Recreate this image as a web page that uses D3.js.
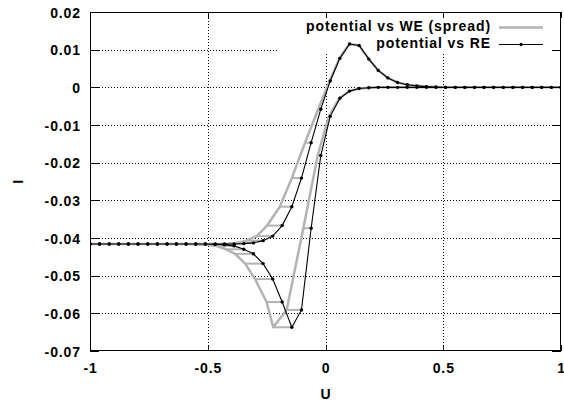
<!DOCTYPE html>
<html>
<head>
<meta charset="utf-8">
<script src="https://cdn.jsdelivr.net/npm/d3@7"></script>
<style>
  html, body { margin: 0; padding: 0; background: #fff; }
  svg { display: block; }
  text { font-family: "Liberation Sans", Arial, sans-serif; font-weight: bold; fill: #000; }
</style>
</head>
<body>
<svg id="chart" width="564" height="403"></svg>
<script>
// ---- data ----
// potential against reference electrode, one value per sample of each sweep
const uRE = [-1, -0.959, -0.918, -0.878, -0.837, -0.796, -0.755, -0.714, -0.673, -0.633,
  -0.592, -0.551, -0.510, -0.469, -0.429, -0.388, -0.347, -0.306, -0.265, -0.224,
  -0.184, -0.143, -0.102, -0.061, -0.020, 0.020, 0.061, 0.102, 0.143, 0.184,
  0.224, 0.265, 0.306, 0.347, 0.388, 0.429, 0.469, 0.510, 0.551, 0.592,
  0.633, 0.673, 0.714, 0.755, 0.796, 0.837, 0.878, 0.918, 0.959, 1];
// current on the forward (anodic) sweep, same order as uRE
const iForward = [-0.0416, -0.0416, -0.0416, -0.0416, -0.0416, -0.0416, -0.0416, -0.0416, -0.0416, -0.0416,
  -0.0416, -0.0416, -0.0416, -0.0416, -0.0416, -0.0416, -0.0415, -0.0413, -0.0407, -0.0395,
  -0.0367, -0.0317, -0.0241, -0.0147, -0.0058, 0.0017, 0.0077, 0.0115, 0.0111, 0.0075,
  0.0045, 0.0025, 0.0013, 0.0007, 0.0004, 0.0002, 0.0001, 0, 0, 0,
  0, 0, 0, 0, 0, 0, 0, 0, 0, 0];
// current on the backward (cathodic) sweep, same order as uRE
const iBackward = [-0.0416, -0.0416, -0.0416, -0.0416, -0.0416, -0.0416, -0.0416, -0.0416, -0.0416, -0.0416,
  -0.0416, -0.0416, -0.0416, -0.0417, -0.0418, -0.0421, -0.0430, -0.0442, -0.0468, -0.0509,
  -0.0570, -0.0637, -0.0591, -0.0374, -0.0181, -0.0077, -0.0029, -0.0010, -0.0003, -0.0001,
  0, 0, 0, 0, 0, 0, 0, 0, 0, 0,
  0, 0, 0, 0, 0, 0, 0, 0, 0, 0];
// potential against working electrode (spread), forward sweep
const uWEForward = [-1.072, -1.031, -0.990, -0.950, -0.909, -0.868, -0.827, -0.786, -0.745, -0.705,
  -0.664, -0.623, -0.582, -0.541, -0.501, -0.460, -0.419, -0.378, -0.337, -0.292,
  -0.248, -0.194, -0.143, -0.087, -0.031, 0.018, 0.059, 0.101, 0.143, 0.184,
  0.224, 0.265, 0.306, 0.347, 0.388, 0.429, 0.469, 0.510, 0.551, 0.592,
  0.633, 0.673, 0.714, 0.755, 0.796, 0.837, 0.878, 0.918, 0.959, 1];
// potential against working electrode (spread), backward sweep
const uWEBackward = [-1.076, -1.035, -0.994, -0.954, -0.913, -0.872, -0.831, -0.790, -0.749, -0.709,
  -0.668, -0.627, -0.586, -0.545, -0.505, -0.464, -0.423, -0.384, -0.341, -0.299,
  -0.250, -0.222, -0.165, -0.094, -0.033, 0.014, 0.059, 0.102, 0.143, 0.184,
  0.224, 0.265, 0.306, 0.347, 0.388, 0.429, 0.469, 0.510, 0.551, 0.592,
  0.633, 0.673, 0.714, 0.755, 0.796, 0.837, 0.878, 0.918, 0.959, 1];

const xTicks = [-1, -0.5, 0, 0.5, 1];
const xTickLabels = ["-1", "-0.5", "0", "0.5", "1"];
const yTicks = [0.02, 0.01, 0, -0.01, -0.02, -0.03, -0.04, -0.05, -0.06, -0.07];
const yTickLabels = ["0.02", "0.01", "0", "-0.01", "-0.02", "-0.03", "-0.04", "-0.05", "-0.06", "-0.07"];
const seriesNames = ["potential vs WE (spread)", "potential vs RE"];
const xTitle = "U";
const yTitle = "I";

// ---- build the loop: forward sweep then backward sweep ----
const fwd = uRE.map((u, k) => ({ re: u, we: uWEForward[k], i: iForward[k] }));
const bwd = uRE.map((u, k) => ({ re: u, we: uWEBackward[k], i: iBackward[k] })).reverse();
const loop = fwd.concat(bwd);

// ---- layout ----
const L = 90, R = 561, T = 12, B = 351;
const x = d3.scaleLinear().domain([-1, 1]).range([L, R]);
const y = d3.scaleLinear().domain([-0.07, 0.02]).range([B, T]);

const svg = d3.select("#chart");
svg.append("rect").attr("width", 564).attr("height", 403).attr("fill", "#fff");

svg.append("defs").append("clipPath").attr("id", "plotclip")
  .append("rect").attr("x", L).attr("y", T).attr("width", R - L).attr("height", B - T);

// grid
const grid = svg.append("g").attr("stroke", "#000").attr("stroke-width", 1)
  .attr("stroke-dasharray", "1,2").attr("shape-rendering", "crispEdges");
grid.selectAll("line.gx").data(xTicks.filter(d => d > -1 && d < 1)).join("line")
  .attr("x1", d => Math.round(x(d)) + 0.5).attr("x2", d => Math.round(x(d)) + 0.5)
  .attr("y1", T).attr("y2", B);
grid.selectAll("line.gy").data(yTicks.filter(d => d < 0.02 && d > -0.07)).join("line")
  .attr("class", "gy")
  .attr("x1", L).attr("x2", R)
  .attr("y1", d => Math.round(y(d)) + 0.5).attr("y2", d => Math.round(y(d)) + 0.5);

// legend background (covers the grid)
const keyBox = { x0: 277, y0: T, x1: R, y1: 53 };
svg.append("rect").attr("x", keyBox.x0).attr("y", keyBox.y0)
  .attr("width", keyBox.x1 - keyBox.x0).attr("height", keyBox.y1 - keyBox.y0).attr("fill", "#fff");

// data
const plot = svg.append("g").attr("clip-path", "url(#plotclip)");
const gray = "#b3b3b3";
plot.selectAll("line.spread").data(loop).join("line")
  .attr("class", "spread")
  .attr("x1", d => x(d.we)).attr("x2", d => x(d.re))
  .attr("y1", d => y(d.i)).attr("y2", d => y(d.i))
  .attr("stroke", gray).attr("stroke-width", 2);
plot.append("path").datum(loop)
  .attr("d", d3.line().x(d => x(d.we)).y(d => y(d.i)))
  .attr("fill", "none").attr("stroke", gray).attr("stroke-width", 2.5)
  .attr("stroke-linejoin", "round");
plot.append("path").datum(loop)
  .attr("d", d3.line().x(d => x(d.re)).y(d => y(d.i)))
  .attr("fill", "none").attr("stroke", "#000").attr("stroke-width", 1.1);
plot.selectAll("circle.pt").data(loop).join("circle")
  .attr("class", "pt")
  .attr("cx", d => x(d.re)).attr("cy", d => y(d.i)).attr("r", 1.7).attr("fill", "#000");

// axes (inward ticks, mirrored)
const fs = "14px";
const ls = "0.9px";
const xAxis = d3.axisBottom(x).tickValues(xTicks).tickFormat((d, k) => xTickLabels[k])
  .tickSizeInner(-6).tickSizeOuter(0).tickPadding(10);
const gx = svg.append("g").attr("transform", `translate(0,${B})`).call(xAxis);
gx.select(".domain").remove();
gx.selectAll("text").style("font-size", fs).style("letter-spacing", ls).attr("dy", "0.71em").attr("y", 12);

const xAxisTop = d3.axisTop(x).tickValues(xTicks).tickFormat("").tickSizeInner(-6).tickSizeOuter(0);
const gxt = svg.append("g").attr("transform", `translate(0,${T})`).call(xAxisTop);
gxt.select(".domain").remove();

const yAxis = d3.axisLeft(y).tickValues(yTicks).tickFormat((d, k) => yTickLabels[k])
  .tickSizeInner(-9).tickSizeOuter(0).tickPadding(9);
const gy = svg.append("g").attr("transform", `translate(${L},0)`).call(yAxis);
gy.select(".domain").remove();
gy.selectAll("text").style("font-size", fs).style("letter-spacing", ls).attr("dy", "0.36em");

const yAxisRight = d3.axisRight(y).tickValues(yTicks).tickFormat("").tickSizeInner(-9).tickSizeOuter(0);
const gyr = svg.append("g").attr("transform", `translate(${R},0)`).call(yAxisRight);
gyr.select(".domain").remove();

svg.selectAll(".tick line").attr("stroke", "#000").attr("shape-rendering", "crispEdges");
svg.selectAll(".tick text").style("font-family", "'Liberation Sans', Arial, sans-serif").style("font-weight", "bold");

// border
svg.append("rect").attr("x", L + 0.5).attr("y", T + 0.5).attr("width", R - L - 1).attr("height", B - T - 1)
  .attr("fill", "none").attr("stroke", "#000").attr("stroke-width", 1);

// axis titles
svg.append("text").attr("x", x(0)).attr("y", 399).attr("text-anchor", "middle")
  .style("font-size", fs).text(xTitle);
svg.append("text").attr("transform", `translate(23,${(T + B) / 2 + 0.2}) rotate(-90)`)
  .attr("text-anchor", "middle").style("font-size", fs).text(yTitle);

// legend
const key = svg.append("g");
const keyRows = [
  { name: seriesNames[0], yText: 31, yLine: 27.5, color: gray, width: 2.5, point: false },
  { name: seriesNames[1], yText: 48, yLine: 44.5, color: "#000", width: 1.1, point: true }
];
keyRows.forEach(r => {
  key.append("text").attr("x", 491).attr("y", r.yText).attr("text-anchor", "end")
    .style("font-size", fs).style("letter-spacing", ls).text(r.name);
  key.append("line").attr("x1", 499).attr("x2", 543).attr("y1", r.yLine).attr("y2", r.yLine)
    .attr("stroke", r.color).attr("stroke-width", r.width);
  if (r.point) key.append("circle").attr("cx", 521).attr("cy", r.yLine).attr("r", 1.7).attr("fill", "#000");
});
</script>
</body>
</html>
